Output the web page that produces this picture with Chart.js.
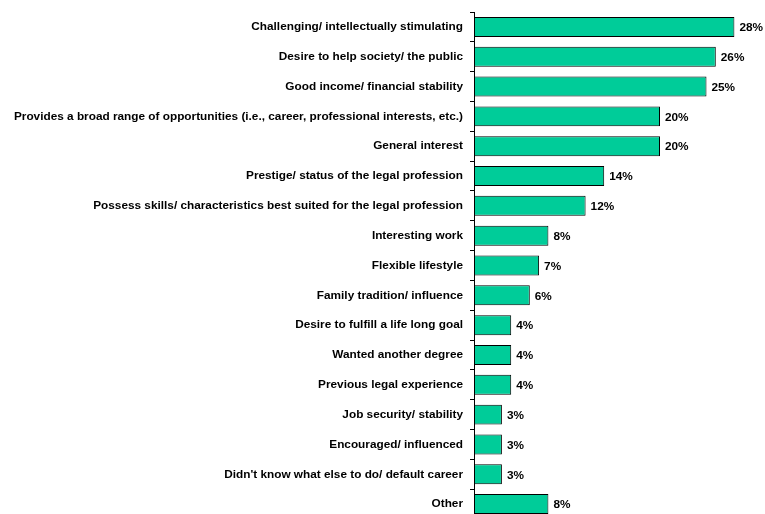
<!DOCTYPE html>
<html>
<head>
<meta charset="utf-8">
<script src="https://cdn.jsdelivr.net/npm/chart.js@4/dist/chart.umd.min.js"></script>
<style>
  html, body { margin: 0; padding: 0; background: #fff; overflow: hidden; }
</style>
</head>
<body>
<canvas id="reasons" width="765" height="525"></canvas>
<script>
const reasons = [
    'Challenging/ intellectually stimulating',
    'Desire to help society/ the public',
    'Good income/ financial stability',
    'Provides a broad range of opportunities (i.e., career, professional interests, etc.)',
    'General interest',
    'Prestige/ status of the legal profession',
    'Possess skills/ characteristics best suited for the legal profession',
    'Interesting work',
    'Flexible lifestyle',
    'Family tradition/ influence',
    'Desire to fulfill a life long goal',
    'Wanted another degree',
    'Previous legal experience',
    'Job security/ stability',
    'Encouraged/ influenced',
    "Didn't know what else to do/ default career",
    'Other'
];
const percents = [28, 26, 25, 20, 20, 14, 12, 8, 7, 6, 4, 4, 4, 3, 3, 3, 8];

const labelFont = { family: "'Liberation Sans', Arial, sans-serif", size: 11.8, weight: 'bold' };

// writes "28%" etc just past the end of each bar
const valueLabels = {
    id: 'valueLabels',
    afterDatasetsDraw(chart) {
        const ctx = chart.ctx;
        const meta = chart.getDatasetMeta(0);
        ctx.save();
        ctx.font = 'bold 11.8px "Liberation Sans", Arial, sans-serif';
        ctx.fillStyle = '#000';
        ctx.textAlign = 'left';
        ctx.textBaseline = 'middle';
        meta.data.forEach((bar, i) => {
            ctx.fillText(percents[i] + '%', bar.x + 5, bar.y + 1);
        });
        ctx.restore();
    }
};

const reasonsChart = document.getElementById('reasons').getContext('2d');
const chart = new Chart(reasonsChart, {
    type: 'bar',
    data: {
        labels: reasons,
        datasets: [{
            data: percents,
            backgroundColor: '#00CC99',
            borderColor: '#000',
            borderWidth: 1,
            borderSkipped: false,
            barPercentage: 0.67,
            categoryPercentage: 1
        }]
    },
    options: {
        indexAxis: 'y',
        responsive: false,
        animation: false,
        layout: {
            padding: { top: 12, right: 12, bottom: 6, left: 0 }
        },
        scales: {
            x: {
                display: false,
                min: 0,
                max: 30
            },
            y: {
                afterFit(scale) {
                    scale.width = 474;
                    scale.paddingTop = 0;
                    scale.paddingBottom = 0;
                },
                grid: {
                    offset: true,
                    drawOnChartArea: false,
                    drawTicks: true,
                    tickLength: 4,
                    color: '#000',
                    lineWidth: 1
                },
                border: {
                    display: true,
                    color: '#000',
                    width: 1
                },
                ticks: {
                    color: '#000',
                    font: labelFont,
                    padding: 7,
                    autoSkip: false
                }
            }
        },
        plugins: {
            legend: { display: false },
            tooltip: { enabled: false }
        }
    },
    plugins: [valueLabels]
});
</script>
</body>
</html>
